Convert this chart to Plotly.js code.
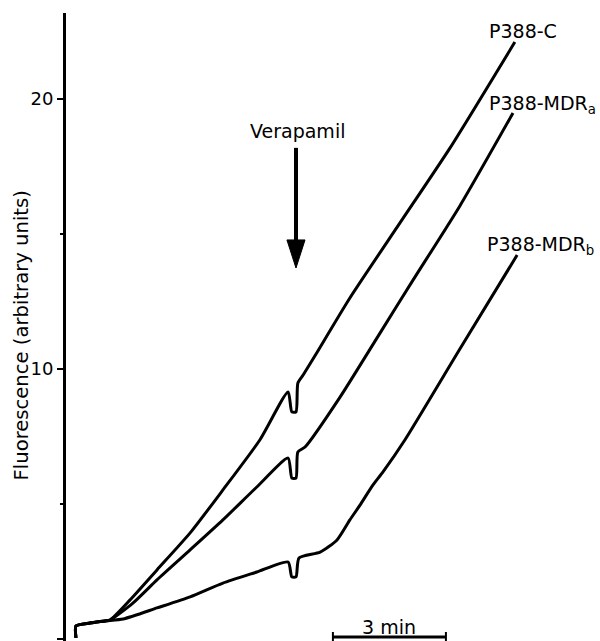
<!DOCTYPE html>
<html>
<head>
<meta charset="utf-8">
<script src="https://cdn.plot.ly/plotly-3.0.1.min.js"></script>
<style>html,body{margin:0;padding:0;background:#fff;}#chart{width:600px;height:641px;}</style>
</head>
<body>
<div id="chart"></div>
<script>
// Time in minutes (t = 0 at start of trace), fluorescence in arbitrary units
const tC    = [0, 0, 0.37, 0.77, 0.90, 1.43, 2.15, 3.03, 3.90, 4.88, 5.63, 5.73, 5.84, 5.89, 6.03, 6.34, 7.27, 8.60, 9.93, 11.65];
const vC    = [0.04, 0.48, 0.59, 0.67, 0.70, 1.44, 2.56, 3.93, 5.52, 7.37, 9.15, 8.41, 8.41, 9.48, 9.78, 10.48, 12.63, 15.41, 18.19, 22.11];

const tMDRa = [0, 0, 0.37, 0.77, 0.90, 1.51, 2.15, 3.03, 3.90, 4.80, 5.63, 5.73, 5.84, 5.89, 6.08, 7.01, 8.07, 8.95, 10.19, 11.60];
const vMDRa = [0.04, 0.48, 0.59, 0.67, 0.70, 1.33, 2.19, 3.30, 4.41, 5.63, 6.70, 5.96, 5.96, 6.93, 7.11, 8.96, 11.33, 13.30, 16.04, 19.48];

const tMDRb = [0, 0, 0.37, 0.77, 1.25, 2.15, 3.03, 3.90, 4.80, 5.63, 5.73, 5.84, 5.92, 6.48, 6.93, 7.27, 7.54, 7.88, 8.15, 8.73, 10.19, 11.71];
const vMDRb = [0.04, 0.48, 0.59, 0.67, 0.74, 1.15, 1.56, 2.07, 2.48, 2.85, 2.30, 2.30, 3.00, 3.22, 3.67, 4.41, 4.96, 5.70, 6.19, 7.37, 10.74, 14.22];

const seriesNames = ['P388-C', 'P388-MDR<sub>a</sub>', 'P388-MDR<sub>b</sub>'];
const yTickVals = [0, 10, 20];
const yTickText = ['', '10', '20'];
const verapamilTime = 5.84;   // time of verapamil addition (min)
const scaleStart = 6.82;      // scale bar start (min)
const scaleLen = 3;           // scale bar length (min)

const lineStyle = {color: '#000', width: 3, shape: 'spline', smoothing: 0.6};
const traces = [
  {x: tC, y: vC, name: seriesNames[0]},
  {x: tMDRa, y: vMDRa, name: seriesNames[1]},
  {x: tMDRb, y: vMDRb, name: seriesNames[2]}
].map(d => Object.assign(d, {type: 'scatter', mode: 'lines', line: lineStyle, hoverinfo: 'skip'}));

const font = {family: 'DejaVu Sans, Liberation Sans, Arial, sans-serif', size: 19, color: '#000'};

const layout = {
  width: 600, height: 641,
  margin: {l: 66, r: 0, t: 13, b: 0},
  paper_bgcolor: '#fff', plot_bgcolor: '#fff',
  showlegend: false,
  font: font,
  xaxis: {range: [-0.265, 13.91], visible: false, fixedrange: true},
  yaxis: {
    range: [-0.074, 23.185], showgrid: false, zeroline: false,
    showline: true, linecolor: '#000', linewidth: 3,
    tickmode: 'array', tickvals: yTickVals, ticktext: yTickText,
    ticks: 'outside', ticklen: 6, tickwidth: 2, tickcolor: '#000',
    tickfont: {family: 'DejaVu Sans, Liberation Sans, Arial, sans-serif', size: 18, color: '#000'},
    minor: {tick0: 0, dtick: 5, ticks: 'outside', ticklen: 3, tickwidth: 2, tickcolor: '#000'}
  },
  yaxis2: {
    overlaying: 'y', range: [-0.074, 23.185], showgrid: false, zeroline: false,
    showline: false, tickmode: 'array', tickvals: yTickVals, ticktext: ['', '', ''],
    ticks: 'inside', ticklen: 6, tickwidth: 2, tickcolor: '#000', side: 'left'
  },
  annotations: [
    {text: 'Fluorescence (arbitrary units)', xref: 'paper', yref: 'paper', x: -0.083, y: 0.486,
     xanchor: 'center', yanchor: 'middle', textangle: -90, showarrow: false, font: Object.assign({}, font, {size: 19.6})},
    {text: seriesNames[0], x: 11.87, y: 22.52, xanchor: 'center', yanchor: 'middle', showarrow: false},
    {text: seriesNames[1], x: 10.91, y: 19.80, xanchor: 'left', yanchor: 'middle', showarrow: false},
    {text: seriesNames[2], x: 10.86, y: 14.57, xanchor: 'left', yanchor: 'middle', showarrow: false},
    {text: 'Verapamil', x: 5.89, y: 18.81, xanchor: 'center', yanchor: 'middle', showarrow: false},
    {text: '3 min', x: scaleStart + scaleLen / 2, y: 0.44, xanchor: 'center', yanchor: 'middle', showarrow: false}
  ],
  shapes: [
    // verapamil arrow shaft + head
    {type: 'line', x0: verapamilTime, x1: verapamilTime, y0: 18.19, y1: 14.6, line: {color: '#000', width: 4}},
    {type: 'path', path: `M ${verapamilTime - 0.24} 14.78 L ${verapamilTime + 0.24} 14.78 L ${verapamilTime} 13.74 Z`,
     fillcolor: '#000', line: {color: '#000', width: 1}},
    // time scale bar
    {type: 'line', x0: scaleStart, x1: scaleStart + scaleLen, y0: 0.074, y1: 0.074, line: {color: '#000', width: 3}},
    {type: 'line', x0: scaleStart, x1: scaleStart, y0: 0.26, y1: -0.074, line: {color: '#000', width: 2}},
    {type: 'line', x0: scaleStart + scaleLen, x1: scaleStart + scaleLen, y0: 0.26, y1: -0.074, line: {color: '#000', width: 2}}
  ]
};

Plotly.newPlot('chart', traces, layout, {staticPlot: true, displayModeBar: false});
</script>
</body>
</html>
